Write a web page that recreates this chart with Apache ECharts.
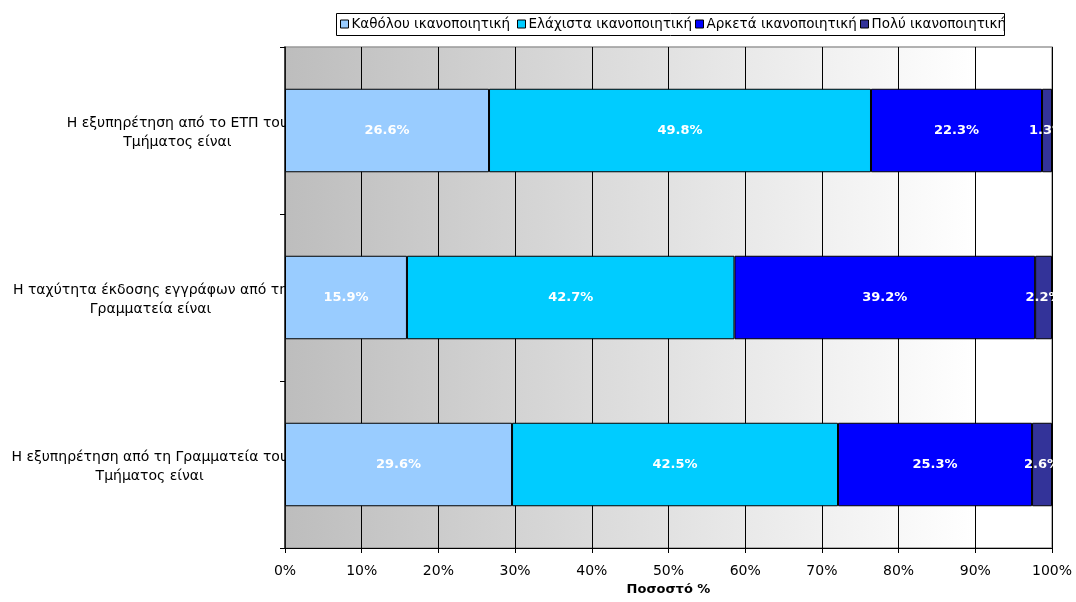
<!DOCTYPE html>
<html>
<head>
<meta charset="utf-8">
<script src="https://cdn.jsdelivr.net/npm/echarts@6/dist/echarts.min.js"></script>
<style>
  html, body { margin: 0; padding: 0; background: #fff; overflow: hidden; }
  #chart { width: 1076px; height: 602px; }
</style>
</head>
<body>
<div id="chart"></div>
<script>
// Survey statements (top to bottom as shown)
const categories = [
  'Η εξυπηρέτηση από το ΕΤΠ του\nΤμήματος είναι',
  'Η ταχύτητα έκδοσης εγγράφων από τη\nΓραμματεία είναι',
  'Η εξυπηρέτηση από τη Γραμματεία του\nΤμήματος είναι'
];
const seriesNames = ['Καθόλου ικανοποιητική', 'Ελάχιστα ικανοποιητική', 'Αρκετά ικανοποιητική', 'Πολύ ικανοποιητική'];
// Percentages per statement, same order as categories
const notAtAll = [26.6, 15.9, 29.6];
const slightly = [49.8, 42.7, 42.5];
const fairly = [22.3, 39.2, 25.3];
const very = [1.3, 2.2, 2.6];
const xTicks = [0, 10, 20, 30, 40, 50, 60, 70, 80, 90, 100];

const colors = ['#99ccff', '#00ccff', '#0000ff', '#333399'];
const FONT = '"DejaVu Sans", Verdana, sans-serif';
const values = [notAtAll, slightly, fairly, very];

// Legend entries sit at fixed slots inside one framed box
const legendSlots = [340, 517, 695, 860];

const chart = echarts.init(document.getElementById('chart'), null, { renderer: 'canvas', width: 1076, height: 602 });

const series = seriesNames.map((name, i) => ({
  name,
  type: 'bar',
  stack: 'total',
  barWidth: '50%',
  data: values[i].slice().reverse(),
  itemStyle: { color: colors[i], borderColor: '#000', borderWidth: 1 },
  label: {
    show: true,
    position: 'inside',
    color: '#fff',
    fontWeight: 'bold',
    fontSize: 13,
    fontFamily: FONT,
    formatter: p => p.value.toFixed(1) + '%'
  }
}));

const legends = seriesNames.map((n, i) => ({
  data: [n],
  left: legendSlots[i],
  top: 17,
  padding: 0,
  itemWidth: 8,
  itemHeight: 8,
  icon: 'rect',
  itemStyle: { borderColor: '#000', borderWidth: 1 },
  textStyle: { fontSize: 13.5, color: '#000', fontFamily: FONT, padding: [0, 0, 0, -2] },
  selectedMode: false
}));

chart.setOption({
  animation: false,
  textStyle: { fontFamily: FONT },
  legend: legends,
  grid: {
    left: 285,
    right: 24,
    top: 47,
    bottom: 54,
    outerBoundsMode: 'none',
    containLabel: false,
    show: true,
    borderColor: '#999',
    borderWidth: 1.5,
    backgroundColor: {
      type: 'linear', x: 0, y: 0, x2: 1, y2: 0,
      colorStops: [
        { offset: 0, color: '#bdbdbd' },
        { offset: 0.9, color: '#ffffff' },
        { offset: 1, color: '#ffffff' }
      ]
    }
  },
  xAxis: {
    type: 'value',
    min: xTicks[0],
    max: xTicks[xTicks.length - 1],
    interval: 10,
    name: 'Ποσοστό %',
    nameLocation: 'middle',
    nameGap: 35,
    nameTextStyle: { fontWeight: 'bold', fontSize: 13, color: '#000', fontFamily: FONT },
    axisLine: { show: true, lineStyle: { color: '#000', width: 1 } },
    axisTick: { show: true, length: 5, lineStyle: { color: '#000' } },
    axisLabel: { formatter: '{value}%', fontSize: 14, color: '#000', margin: 16, fontFamily: FONT },
    splitLine: { show: true, lineStyle: { color: '#000', width: 1 } }
  },
  yAxis: {
    type: 'category',
    data: categories.slice().reverse(),
    axisLine: { show: true, lineStyle: { color: '#222', width: 1.5 } },
    axisTick: { show: true, length: 5, lineStyle: { color: '#000' } },
    axisLabel: {
      color: '#000',
      fontSize: 14,
      fontFamily: FONT,
      margin: -3,
      align: 'right',
      lineHeight: 19,
      padding: [4, 0, 0, 0],
      formatter: v => v.split('\n').map(s => '{c|' + s + '}').join('\n'),
      rich: { c: { align: 'center', fontSize: 14, lineHeight: 19, color: '#000', fontFamily: FONT } }
    }
  },
  series,
  graphic: [
    {
      // frame behind the legend entries
      type: 'rect',
      z: 0,
      shape: { x: 336.5, y: 13.5, width: 668, height: 22 },
      style: { fill: '#fff', stroke: '#000', lineWidth: 1 }
    },
    {
      // keeps the right edge of the plot clean where labels run past it
      type: 'rect',
      z: 100,
      shape: { x: 1053, y: 40, width: 23, height: 510 },
      style: { fill: '#fff' }
    }
  ]
});
</script>
</body>
</html>
